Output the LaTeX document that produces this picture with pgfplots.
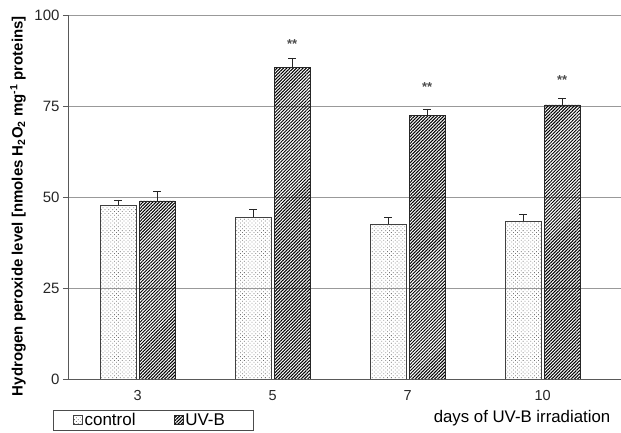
\documentclass[border=0pt]{standalone}
\usepackage{pgfplots}
\pgfplotsset{compat=1.18}
\usepackage{pgfplotstable}
\usepackage{fontspec}
\setmainfont{Liberation Sans}
\usetikzlibrary{patterns.meta}

\pgfplotstableread{
x c ce u ue
0 47.8 1.4 48.9 2.5
1 44.5 2.2 85.7 2.5
2 42.6 1.9 72.3 1.9
3 43.4 1.9 75.3 1.9
}\data

\pgfplotsset{sqlegend/.style={legend image code/.code={\draw[##1] (0pt,-4.5pt) rectangle (9pt,4.5pt);}}}

\begin{document}
\begin{tikzpicture}[x=1pt,y=1pt]
\begin{axis}[
  scale only axis, width=553pt, height=364pt,
  ybar=3pt, bar width=36pt,
  xmin=-0.515, xmax=3.58, ymin=0, ymax=100,
  xtick={0,1,2,3}, xticklabels={3,5,7,10},
  ytick={0,25,50,75,100},
  axis x line*=bottom, axis y line*=left,
  axis line style={draw=gray!70!black, line width=0.8pt, -},
  ymajorgrids, grid style={gray!80, line width=0.8pt},
  major tick length=5pt, tick align=outside,
  ytick style={gray!70!black, line width=0.8pt},
  xtick style={draw=none},
  xticklabel style={yshift=-3pt, font=\fontsize{14.5}{14.5}\selectfont},
  yticklabel style={font=\fontsize{15}{15}\selectfont},
  tick label style={text=black!85},
  /pgf/number format/assume math mode=true,
  ylabel={\bfseries Hydrogen peroxide level [nmoles H\textsubscript{2}O\textsubscript{2} mg\textsuperscript{-1} proteins]},
  ylabel style={at={(axis description cs:-0.0904,0.475)}, anchor=center, font=\fontsize{15}{15}\selectfont},
  xlabel={days of UV-B irradiation},
  xlabel style={at={(axis description cs:0.821,-0.107)}, anchor=center, font=\fontsize{16.8}{16.8}\selectfont},
  legend style={at={(axis description cs:-0.027,-0.0852)}, anchor=north west,
    legend columns=2, draw=black!70, line width=0.6pt,
    font=\fontsize{17}{17}\selectfont, inner xsep=20pt, inner ysep=1pt,
    nodes={inner xsep=1.5pt},
    /tikz/every even column/.append style={column sep=37pt}},
  error bars/error bar style={line width=0.8pt, black!85},
  error bars/error mark=|,
  error bars/error mark options={mark size=4pt, line width=0.8pt, black!85},
]
\addplot[draw=black!75, line width=0.7pt, pattern={Dots[distance=2.7pt, angle=45, radius=0.55pt]}, pattern color=black!55,
  sqlegend,
  error bars/.cd, y dir=plus, y explicit]
  table[x=x, y=c, y error=ce]{\data};
\addplot[draw=black!85, line width=0.7pt, pattern={Lines[angle=45, distance=2.3pt, line width=1pt]}, pattern color=black,
  sqlegend,
  error bars/.cd, y dir=plus, y explicit]
  table[x=x, y=u, y error=ue]{\data};
\legend{control, UV-B\rule{7pt}{0pt}}
\node[font=\bfseries\fontsize{13}{13}\selectfont, text=black!70] at (axis cs:1.1444,92) {**};
\node[font=\bfseries\fontsize{13}{13}\selectfont, text=black!70] at (axis cs:2.1444,80.2) {**};
\node[font=\bfseries\fontsize{13}{13}\selectfont, text=black!70] at (axis cs:3.1444,82.1) {**};
\end{axis}
\pgfresetboundingbox
\useasboundingbox (-68,-54) rectangle (553,379);
\end{tikzpicture}
\end{document}
